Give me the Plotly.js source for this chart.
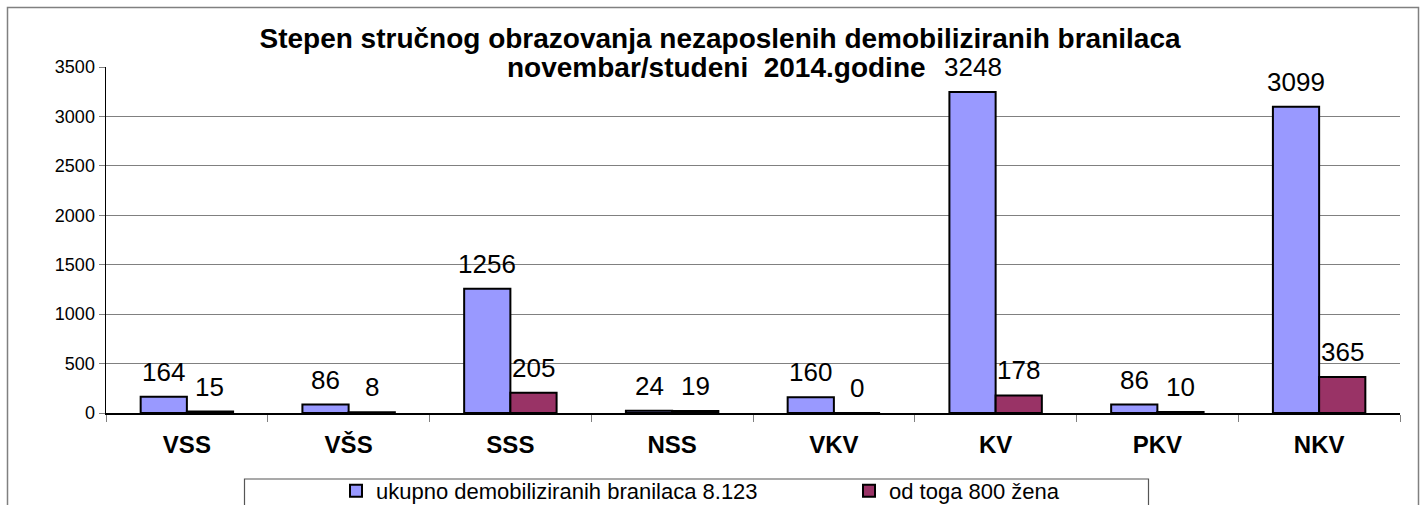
<!DOCTYPE html>
<html>
<head>
<meta charset="utf-8">
<script src="https://cdn.plot.ly/plotly-3.0.1.min.js"></script>
<style>
  html, body { margin: 0; padding: 0; background: #ffffff; }
  #chart { width: 1428px; height: 505px; }
</style>
</head>
<body>
<div id="chart"></div>
<script>
const categories = ['VSS', 'VŠS', 'SSS', 'NSS', 'VKV', 'KV', 'PKV', 'NKV'];
const totalValues = [164, 86, 1256, 24, 160, 3248, 86, 3099];
const womenValues = [15, 8, 205, 19, 0, 178, 10, 365];
const seriesNames = ['ukupno demobiliziranih branilaca 8.123', 'od toga 800 žena'];
const titleLine1 = 'Stepen stručnog obrazovanja nezaposlenih demobiliziranih branilaca';
const titleLine2 = 'novembar/studeni\u00a0 2014.godine';
const yTickValues = [0, 500, 1000, 1500, 2000, 2500, 3000, 3500];

const FONT = 'Liberation Sans, Arial, sans-serif';
const plotL = 106, plotR = 1400, plotT = 67, plotB = 413;
const W = 1428, H = 505;
const px2x = p => (p - plotL) / (plotR - plotL);
const py2y = p => (plotB - p) / (plotB - plotT);

const traces = [
  {
    type: 'bar', name: seriesNames[0], x: categories, y: totalValues,
    marker: { color: '#9999ff', line: { color: '#000000', width: 2 } },
    hoverinfo: 'x+y'
  },
  {
    type: 'bar', name: seriesNames[1], x: categories, y: womenValues,
    marker: { color: '#993366', line: { color: '#000000', width: 2 } },
    hoverinfo: 'x+y'
  }
];

const barOffset = 23.1;
const labelAnnotations = [];
[totalValues, womenValues].forEach((vals, s) => {
  vals.forEach((v, i) => {
    labelAnnotations.push({
      x: categories[i], y: v, xref: 'x', yref: 'y',
      text: String(v), showarrow: false,
      xshift: s === 0 ? -barOffset : barOffset,
      yanchor: 'bottom', yshift: 8,
      font: { family: FONT, size: 26, color: '#000000' }
    });
  });
});

labelAnnotations.push({
  x: px2x(716), y: py2y(67), xref: 'paper', yref: 'paper',
  text: '<b>' + titleLine2 + '</b>', showarrow: false,
  xanchor: 'center', yanchor: 'middle',
  font: { family: FONT, size: 28, color: '#000000' }
});

const layout = {
  width: W, height: H,
  margin: { l: plotL, r: W - plotR, t: plotT, b: H - plotB, pad: 0, autoexpand: false },
  paper_bgcolor: '#ffffff', plot_bgcolor: '#ffffff',
  font: { family: FONT, color: '#000000' },
  title: {
    text: '<b>' + titleLine1 + '</b>',
    font: { family: FONT, size: 28, color: '#000000' },
    xref: 'container', x: 720 / W, xanchor: 'center',
    yref: 'container', y: 1 - 38 / H, yanchor: 'middle'
  },
  barmode: 'group',
  bargap: 1.5 / 3.5,
  bargroupgap: 0,
  showlegend: true,
  legend: {
    orientation: 'h',
    x: px2x(336), xanchor: 'left',
    y: py2y(470), yanchor: 'top',
    font: { family: FONT, size: 22, color: '#000000' },
    bgcolor: 'rgba(0,0,0,0)',
    entrywidth: 468, entrywidthmode: 'pixels',
    traceorder: 'normal'
  },
  xaxis: {
    type: 'category',
    showgrid: false,
    showline: true, linecolor: '#000000', linewidth: 1.5,
    ticks: 'outside', tickson: 'boundaries', ticklen: 7, tickcolor: '#808080', tickwidth: 1,
    tickfont: { family: FONT, size: 24, color: '#000000' },
    ticklabelstandoff: 10,
    tickprefix: '<b>', ticksuffix: '</b>',
    zeroline: false,
    automargin: false,
    fixedrange: true
  },
  yaxis: {
    range: [0, 3500],
    tickvals: yTickValues,
    ticktext: yTickValues.map(String),
    showgrid: true, gridcolor: '#808080', gridwidth: 1,
    showline: true, linecolor: '#000000', linewidth: 1.5,
    ticks: 'outside', ticklen: 6, tickcolor: '#808080', tickwidth: 1,
    tickfont: { family: FONT, size: 18, color: '#000000' },
    zeroline: false,
    automargin: false,
    fixedrange: true
  },
  shapes: [
    {
      type: 'rect', xref: 'paper', yref: 'paper', layer: 'above',
      x0: px2x(7.5), x1: px2x(1418.5), y0: py2y(530), y1: py2y(7.5),
      line: { color: '#808080', width: 1.5 }, fillcolor: 'rgba(0,0,0,0)'
    },
    {
      type: 'rect', xref: 'paper', yref: 'paper', layer: 'above',
      x0: px2x(244.5), x1: px2x(1148.5), y0: py2y(530), y1: py2y(479),
      line: { color: '#555555', width: 1.2 }, fillcolor: 'rgba(0,0,0,0)'
    }
  ],
  annotations: labelAnnotations
};

Plotly.newPlot('chart', traces, layout, { displayModeBar: false, staticPlot: true });
</script>
</body>
</html>
